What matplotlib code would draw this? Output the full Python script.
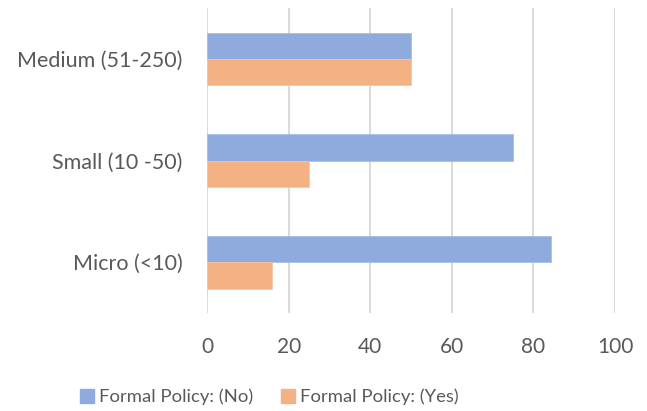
from matplotlib import pyplot as plt
from matplotlib.patches import Patch
import numpy as np

categories = ["Micro (<10)", "Small (10 -50)", "Medium (51-250)"]
policy_no = [84.2, 75.0, 50.0]
policy_yes = [15.8, 25.0, 50.0]
series_labels = ["Formal Policy: (No)", "Formal Policy: (Yes)"]

BLUE = "#8FAADC"
ORANGE = "#F4B183"
TEXT = "#595959"
GRID = "#D9D9D9"

plt.rcParams["font.family"] = ["Lato", "DejaVu Sans"]

fig = plt.figure(figsize=(6.47, 4.11), dpi=100)
ax = fig.add_axes([0.3204, 0.2384, 0.6301, 0.7414])

y = np.arange(len(categories))
h = 0.26

ax.barh(y + h / 2, policy_no, h, color=BLUE, edgecolor="#A9BFE6", linewidth=0.6, zorder=3)
ax.barh(y - h / 2, policy_yes, h, color=ORANGE, edgecolor="#F7C6A2", linewidth=0.6, zorder=3)

ax.set_xlim(0, 100)
ax.set_ylim(-0.5, 2.5)
ax.set_xticks(np.arange(0, 101, 20))
ax.set_yticks(y)
ax.set_yticklabels(categories)

ax.grid(axis="x", color=GRID, linewidth=1.4, zorder=0)
for s in ax.spines.values():
    s.set_visible(False)
ax.tick_params(axis="both", length=0, colors=TEXT)
ax.tick_params(axis="x", pad=17.5, labelsize=15)
ax.tick_params(axis="y", pad=18, labelsize=15.5)

handles = [Patch(color=BLUE), Patch(color=ORANGE)]
fig.legend(
    handles,
    series_labels,
    loc="center",
    bbox_to_anchor=(269.5 / 647, 1 - 397 / 411),
    ncol=2,
    frameon=False,
    fontsize=13.3,
    labelcolor=TEXT,
    handlelength=0.75,
    handleheight=0.8,
    handletextpad=0.3,
    columnspacing=1.5,
)

fig.savefig("out.png", dpi=100)
plt.close(fig)
